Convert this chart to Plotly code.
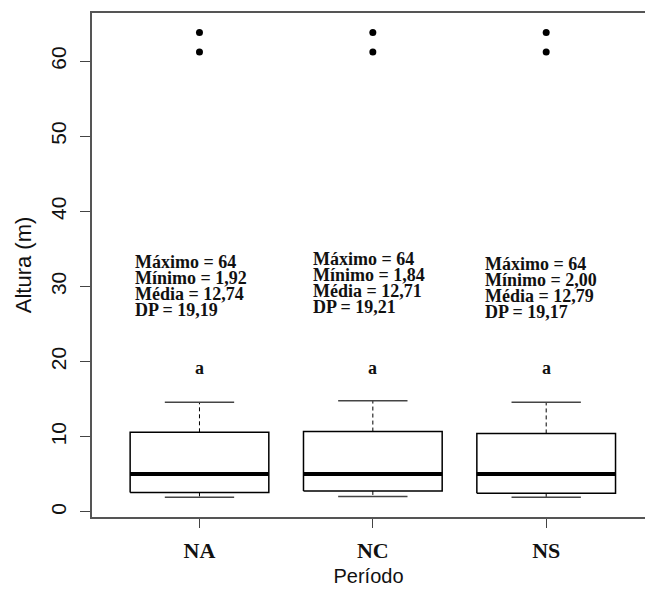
import plotly.graph_objects as go

# ---- data ----
categories = ["NA", "NC", "NS"]
q1 = [2.6, 2.8, 2.5]
medians = [5.05, 5.05, 5.05]
q3 = [10.6, 10.7, 10.45]
whisker_low = [1.95, 2.05, 1.95]
whisker_high = [14.6, 14.8, 14.6]
outliers = [[61.2, 63.8], [61.2, 63.8], [61.2, 63.8]]
stat_max = ["64", "64", "64"]
stat_min = ["1,92", "1,84", "2,00"]
stat_mean = ["12,74", "12,71", "12,79"]
stat_sd = ["19,19", "19,21", "19,17"]
letters = ["a", "a", "a"]
y_ticks = [0, 10, 20, 30, 40, 50, 60]

# ---- style / layout constants ----
BOX_HW = 0.4
CAP_HW = 0.2
text_left_offset = [-0.385, -0.355, -0.365]
text_top = [33.3, 33.7, 33.0]
line_step = 2.13
letter_y = 19.1
serif = "Liberation Serif, Times New Roman, serif"
sans = "Liberation Sans, Arial, sans-serif"

fig = go.Figure()
xs = [1, 2, 3]
for i, x in enumerate(xs):
    # box rectangle
    fig.add_trace(go.Scatter(
        x=[x - BOX_HW, x + BOX_HW, x + BOX_HW, x - BOX_HW, x - BOX_HW],
        y=[q1[i], q1[i], q3[i], q3[i], q1[i]],
        mode="lines", line=dict(color="black", width=1.5),
        fill="toself", fillcolor="white", hoverinfo="skip", showlegend=False))
    # median
    fig.add_trace(go.Scatter(
        x=[x - BOX_HW, x + BOX_HW], y=[medians[i], medians[i]],
        mode="lines", line=dict(color="black", width=4),
        hoverinfo="skip", showlegend=False))
    # whiskers (dashed)
    fig.add_trace(go.Scatter(
        x=[x, x, None, x, x],
        y=[q3[i], whisker_high[i], None, q1[i], whisker_low[i]],
        mode="lines", line=dict(color="black", width=1, dash="4px,3px"),
        hoverinfo="skip", showlegend=False))
    # caps
    fig.add_trace(go.Scatter(
        x=[x - CAP_HW, x + CAP_HW, None, x - CAP_HW, x + CAP_HW],
        y=[whisker_high[i], whisker_high[i], None, whisker_low[i], whisker_low[i]],
        mode="lines", line=dict(color="#444444", width=1.5),
        hoverinfo="skip", showlegend=False))
    # outliers
    fig.add_trace(go.Scatter(
        x=[x] * len(outliers[i]), y=outliers[i], mode="markers",
        marker=dict(color="black", size=7), hoverinfo="skip", showlegend=False))

    lines = [f"Máximo = {stat_max[i]}", f"Mínimo = {stat_min[i]}",
             f"Média = {stat_mean[i]}", f"DP = {stat_sd[i]}"]
    for k, t in enumerate(lines):
        fig.add_annotation(
            x=x + text_left_offset[i], y=text_top[i] - k * line_step,
            text=f"<b>{t}</b>", showarrow=False, xanchor="left", yanchor="middle",
            font=dict(family=serif, size=18, color="#111111"))
    fig.add_annotation(
        x=x, y=letter_y, text=f"<b>{letters[i]}</b>", showarrow=False,
        xanchor="center", yanchor="middle",
        font=dict(family=serif, size=18, color="#111111"))

fig.update_layout(
    width=645, height=592,
    margin=dict(l=92, r=0, t=13, b=75),
    plot_bgcolor="white", paper_bgcolor="white",
    showlegend=False,
    xaxis=dict(
        range=[0.38, 3.57], tickmode="array", tickvals=xs,
        ticktext=[f"<b>{c}</b>" for c in categories],
        tickfont=dict(family=serif, size=22, color="#111111"),
        ticks="outside", ticklen=9, tickcolor="#444444", tickwidth=1.2,
        ticklabelstandoff=4,
        showline=True, linecolor="#555555", linewidth=1.5, mirror=True,
        showgrid=False, zeroline=False, automargin=False,
        title=dict(text="Período", font=dict(family=sans, size=20, color="#111111"),
                   standoff=7)),
    yaxis=dict(
        range=[-0.67, 66.4], tickmode="array", tickvals=y_ticks,
        tickfont=dict(family=sans, size=21, color="#111111"), tickangle=-90,
        ticks="outside", ticklen=10, tickcolor="#444444", tickwidth=1.2,
        ticklabelstandoff=6,
        showline=True, linecolor="#555555", linewidth=1.5, mirror=False,
        showgrid=False, zeroline=False, automargin=False,
        title=dict(text="Altura (m)", font=dict(family=sans, size=22, color="#111111"),
                   standoff=9)),
)

fig.write_html(
    "out.html",
    config={"displayModeBar": False},
    post_script="document.body.style.margin='0';"
                "document.documentElement.style.overflow='hidden';",
)
